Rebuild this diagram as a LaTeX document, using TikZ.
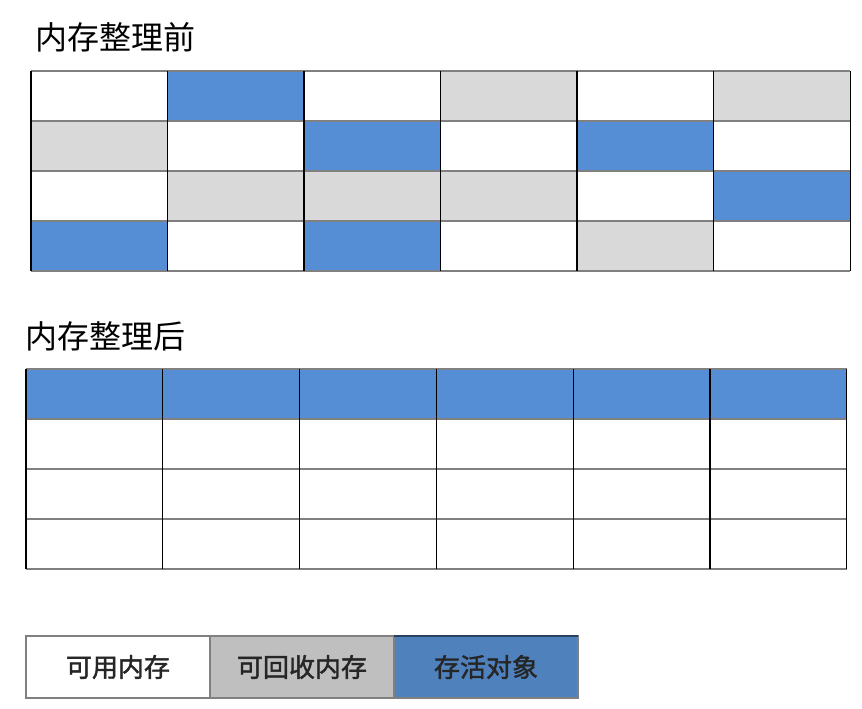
\documentclass[tikz,border=0pt]{standalone}
\usepackage{fontspec}
\newfontfamily\cjk{Noto Sans CJK SC}
\newfontfamily\cjkbold[FakeBold=1.6]{Noto Sans CJK SC}
\definecolor{live}{RGB}{85,142,213}
\definecolor{dead}{RGB}{217,217,217}
\definecolor{livekey}{RGB}{79,129,189}
\definecolor{deadkey}{RGB}{191,191,191}
\definecolor{rule}{RGB}{128,128,128}
\tikzset{
  cell/.style={minimum width=136.6pt, minimum height=50pt, inner sep=0pt, outer sep=0pt, anchor=north west},
  hline/.style={rule, line width=1.3pt},
  vline/.style={black, line width=1.2pt},
  title/.style={anchor=west, inner sep=0pt, font=\cjk\fontsize{32}{32}\selectfont},
  key/.style={minimum width=184pt, minimum height=62pt, inner sep=0pt, outer sep=0pt, anchor=north west,
    draw=rule, line width=1.3pt, text=black!85, font=\cjkbold\fontsize{26}{26}\selectfont}
}
\begin{document}
\begin{tikzpicture}[x=1pt,y=-1pt]
	\useasboundingbox (0,0) rectangle (862,709);
	% before
	\node[title] (before) at (35,37) {内存整理前};
	\foreach \r/\cols in {1/{white,live,white,dead,white,dead},
	                      2/{dead,white,live,white,live,white},
	                      3/{white,dead,dead,dead,white,live},
	                      4/{live,white,live,white,dead,white}}
	  \foreach \c [count=\i] in \cols
	    \node[cell, fill=\c] (pre-\r-\i) at ({31+(\i-1)*136.5},{71+(\r-1)*50}) {};
	\foreach \r in {1,...,4} {
	  \draw[hline] (pre-\r-1.north west) -- (pre-\r-6.north east);
	}
	\draw[hline] (pre-4-1.south west) -- (pre-4-6.south east);
	\foreach \i in {1,...,6} {
	  \draw[vline] (pre-1-\i.north west) -- (pre-4-\i.south west);
	}
	\draw[vline] (pre-1-6.north east) -- (pre-4-6.south east);
	% after
	\node[title] (after) at (25,336) {内存整理后};
	\foreach \r/\c in {1/live,2/white,3/white,4/white}
	  \foreach \i in {1,...,6}
	    \node[cell, fill=\c] (post-\r-\i) at ({26+(\i-1)*136.8},{369+(\r-1)*50}) {};
	\foreach \r in {1,...,4} {
	  \draw[hline] (post-\r-1.north west) -- (post-\r-6.north east);
	}
	\draw[hline] (post-4-1.south west) -- (post-4-6.south east);
	\foreach \i in {1,...,6} {
	  \draw[vline] (post-1-\i.north west) -- (post-4-\i.south west);
	}
	\draw[vline] (post-1-6.north east) -- (post-4-6.south east);
	% legend
	\node[key, fill=white] (free) at (26,636) {可用内存};
	\node[key, fill=deadkey] (garbage) at (free.north east) {可回收内存};
	\node[key, fill=livekey] (alive) at (garbage.north east) {存活对象};
	\draw[line width=1.3pt, livekey!50!black] (alive.north west) -- (alive.north east);
\end{tikzpicture}
\end{document}
